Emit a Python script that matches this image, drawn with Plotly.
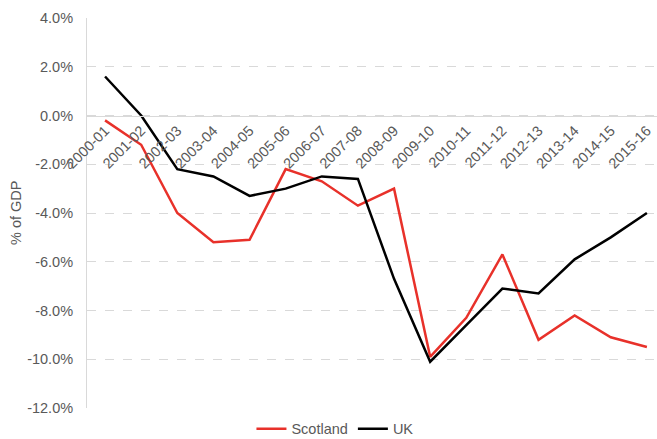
import plotly.graph_objects as go

years = ["2000-01", "2001-02", "2002-03", "2003-04", "2004-05", "2005-06", "2006-07", "2007-08",
         "2008-09", "2009-10", "2010-11", "2011-12", "2012-13", "2013-14", "2014-15", "2015-16"]
scotland = [-0.2, -1.2, -4.0, -5.2, -5.1, -2.2, -2.7, -3.7, -3.0, -9.9, -8.3, -5.7, -9.2, -8.2, -9.1, -9.5]
uk = [1.6, 0.0, -2.2, -2.5, -3.3, -3.0, -2.5, -2.6, -6.7, -10.1, -8.6, -7.1, -7.3, -5.9, -5.0, -4.0]
y_ticks = [4, 2, 0, -2, -4, -6, -8, -10, -12]
y_tick_text = [f"{v:.1f}%" for v in y_ticks]

xi = list(range(len(years)))

fig = go.Figure()
fig.add_trace(go.Scatter(x=xi, y=scotland, mode="lines", name="Scotland",
                         line=dict(color="#e8312a", width=2.5)))
fig.add_trace(go.Scatter(x=xi, y=uk, mode="lines", name="UK",
                         line=dict(color="#000000", width=2.5)))

font = "Liberation Sans, Arial, sans-serif"
fs = 14.5
fig.update_layout(
    width=657, height=439,
    margin=dict(l=87, r=0, t=18, b=31),
    plot_bgcolor="white", paper_bgcolor="white",
    font=dict(family=font, size=fs, color="#595959"),
    showlegend=True,
    legend=dict(orientation="h", x=0.435, xanchor="center", yref="container", y=0.023, yanchor="middle",
                font=dict(size=fs, color="#595959"), itemwidth=30,
                bgcolor="rgba(0,0,0,0)", tracegroupgap=0),
    xaxis=dict(
        tickmode="array", tickvals=xi, ticktext=years, tickangle=-45,
        range=[-0.5, 15.28], showgrid=False, zeroline=False, automargin=False,
        anchor="free", position=0.75, showline=True, linecolor="#d9d9d9", linewidth=1,
        ticks="", tickfont=dict(size=fs, color="#595959"),
    ),
    yaxis=dict(
        range=[-12, 4], tickmode="array", tickvals=y_ticks, ticktext=y_tick_text,
        showgrid=True, gridcolor="#d9d9d9", griddash="dash", gridwidth=1,
        zeroline=False, showline=True, linecolor="#d9d9d9", linewidth=1, automargin=False,
        ticks="", ticklabelstandoff=10, tickfont=dict(size=fs, color="#595959"),
    ),
    annotations=[dict(text="% of GDP", xref="paper", yref="paper", x=-0.1246, y=0.5,
                      xanchor="center", yanchor="middle", textangle=-90, showarrow=False,
                      font=dict(size=fs, color="#595959"))],
)

fig.write_html("out.html", post_script="document.body.style.margin='0';",
               config={"displayModeBar": False})
